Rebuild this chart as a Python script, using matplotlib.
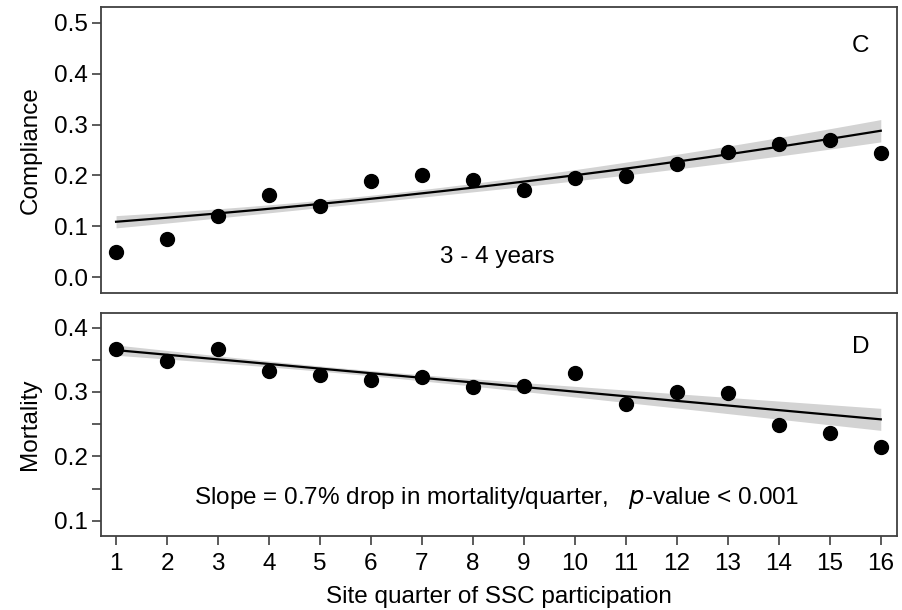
import numpy as np
import matplotlib
matplotlib.use("Agg")
import matplotlib.pyplot as plt

plt.rcParams['font.family'] = ['Liberation Sans', 'DejaVu Sans']

# quarters of SSC participation
quarters = np.arange(1, 17)

# observed compliance per quarter (3 - 4 years)
compliance = [0.049, 0.075, 0.120, 0.162, 0.140, 0.190, 0.201, 0.191,
              0.172, 0.195, 0.198, 0.223, 0.247, 0.261, 0.270, 0.245]

# observed mortality per quarter
mortality = [0.367, 0.348, 0.366, 0.333, 0.326, 0.319, 0.324, 0.307,
             0.310, 0.329, 0.281, 0.300, 0.298, 0.249, 0.236, 0.214]

# logistic fit for compliance (logit scale) and its 95% band parameters
comp_b0, comp_b1 = -2.181, 0.0797
comp_h0, comp_hs, comp_hc = 0.007, 0.00204, 5.8

# linear fit for mortality and its 95% band parameters
mort_b0, mort_b1 = 0.3722, -0.00717
mort_h0, mort_hs, mort_hc = 0.004, 0.00157, 5.4

TXT = 17.5
EDGE = '#404040'


def style_axes(ax):
    for sp in ax.spines.values():
        sp.set_color(EDGE)
        sp.set_linewidth(1.3)
    ax.tick_params(axis='both', which='both', colors=EDGE, labelcolor='black',
                   labelsize=TXT, length=6.5, width=1.2, pad=3)
    ax.tick_params(axis='x', pad=6)


def draw_fit(ax, xs, fit, half):
    ax.fill_between(xs, fit - half, fit + half, color='#d3d3d3', lw=0, zorder=1)
    ax.plot(xs, fit, color='black', lw=1.6, zorder=2)


fig = plt.figure(figsize=(9.02, 6.10), dpi=100)
ax1 = fig.add_axes([0.112, 0.5197, 0.882, 0.4688])
ax2 = fig.add_axes([0.112, 0.1213, 0.882, 0.3661])

xs = np.linspace(1, 16, 200)

# compliance panel
comp_fit = 1 / (1 + np.exp(-(comp_b0 + comp_b1 * xs)))
comp_half = np.sqrt(comp_h0 ** 2 + (comp_hs * (xs - comp_hc)) ** 2)
draw_fit(ax1, xs, comp_fit, comp_half)
ax1.scatter(quarters, compliance, s=100, color='black', zorder=3)
ax1.set_xlim(0.705, 16.31)
ax1.set_ylim(-0.031, 0.531)
ax1.set_yticks([0.0, 0.1, 0.2, 0.3, 0.4, 0.5])
ax1.set_yticklabels(['0.0', '0.1', '0.2', '0.3', '0.4', '0.5'])
ax1.set_xticks([])
ax1.set_ylabel('Compliance', fontsize=TXT, labelpad=9)
ax1.text(15.6, 0.455, 'C', fontsize=TXT, ha='center', va='center')
ax1.text(8.47, 0.040, '3 - 4 years', fontsize=TXT, ha='center', va='center')
style_axes(ax1)

# mortality panel
mort_fit = mort_b0 + mort_b1 * xs
mort_half = np.sqrt(mort_h0 ** 2 + (mort_hs * (xs - mort_hc)) ** 2)
draw_fit(ax2, xs, mort_fit, mort_half)
ax2.scatter(quarters, mortality, s=100, color='black', zorder=3)
ax2.set_xlim(0.705, 16.31)
ax2.set_ylim(0.0762, 0.4232)
ax2.set_yticks([0.1, 0.2, 0.3, 0.4])
ax2.set_yticklabels(['0.1', '0.2', '0.3', '0.4'])
ax2.set_yticks([0.15, 0.25, 0.35], minor=True)
ax2.set_xticks(quarters)
ax2.set_xticklabels([str(q) for q in quarters])
ax2.set_ylabel('Mortality', fontsize=TXT, labelpad=9)
ax2.set_xlabel('Site quarter of SSC participation', fontsize=TXT, labelpad=8)
ax2.text(15.6, 0.370, 'D', fontsize=TXT, ha='center', va='center')
ax2.text(8.47, 0.1347,
         'Slope = 0.7% drop in mortality/quarter,   $\\it{p}$-value < 0.001',
         fontsize=TXT, ha='center', va='center')
style_axes(ax2)

fig.savefig('out.png', dpi=100)
